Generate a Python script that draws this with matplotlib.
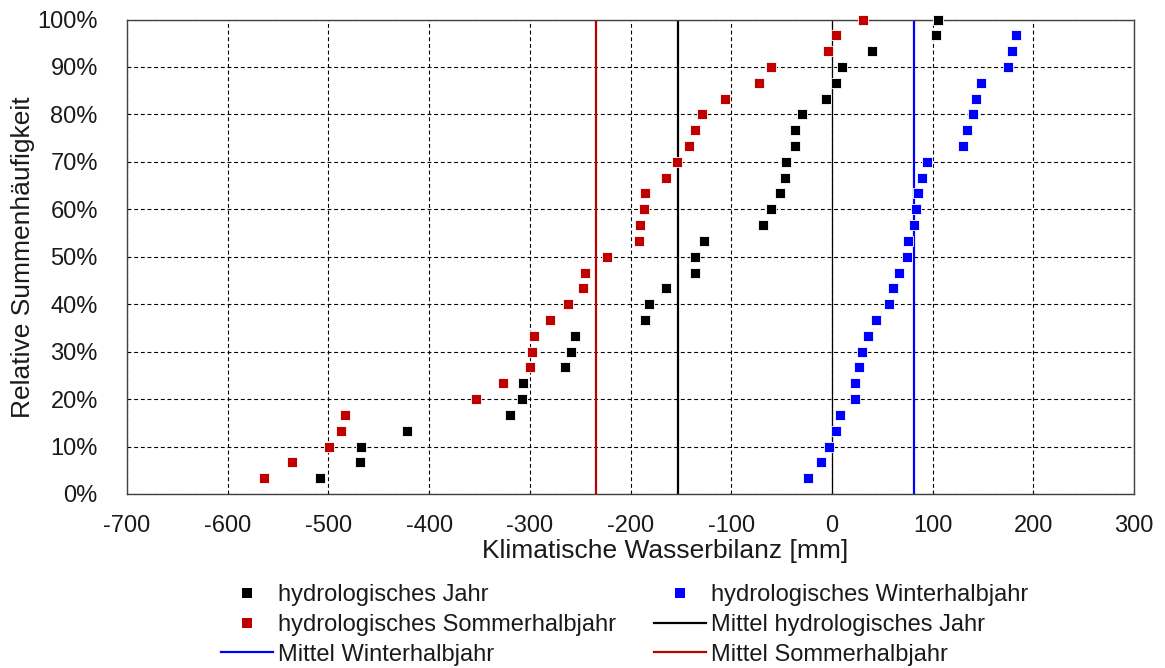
import matplotlib
matplotlib.use("Agg")
import matplotlib.pyplot as plt
import numpy as np
from matplotlib.lines import Line2D

plt.rcParams['font.family'] = ['Liberation Sans', 'DejaVu Sans']
plt.rcParams['axes.unicode_minus'] = False

# sorted values of the climatic water balance [mm], one per year
jahr = [-508.6, -469.1, -467.9, -421.9, -320.1, -307.6, -306.5, -265.4, -259.0, -255.6,
        -185.3, -181.8, -165.1, -136.3, -135.5, -127.1, -68.7, -60.5, -51.6, -46.6,
        -45.6, -36.4, -36.4, -30.0, -5.9, 4.4, 10.4, 39.8, 103.7, 105.7]
sommer = [-564.4, -536.3, -499.8, -487.3, -483.1, -353.6, -326.6, -300.0, -297.4, -296.2,
          -279.5, -261.6, -247.6, -245.3, -223.2, -191.8, -190.6, -186.8, -185.3, -164.8,
          -153.7, -142.4, -136.0, -128.6, -106.6, -72.2, -60.5, -3.5, 4.0, 30.6]
winter = [-23.8, -10.7, -3.2, 4.2, 8.5, 23.4, 23.4, 27.3, 29.8, 36.2,
          44.0, 56.4, 60.3, 66.7, 74.4, 75.5, 81.6, 83.1, 85.3, 89.1,
          94.4, 129.9, 134.1, 140.2, 143.0, 148.0, 174.5, 178.4, 182.4]
n_jahre = 30

mittel_jahr = -153.3
mittel_sommer = -234.5
mittel_winter = 81.6

labels = ['hydrologisches Jahr', 'hydrologisches Winterhalbjahr',
          'hydrologisches Sommerhalbjahr', 'Mittel hydrologisches Jahr',
          'Mittel Winterhalbjahr', 'Mittel Sommerhalbjahr']

c_jahr = 'black'
c_sommer = '#C00000'
c_winter = '#0000FF'
c_text = '#1a1a1a'

def freq(vals):
    return np.arange(1, len(vals) + 1) / n_jahre

fig = plt.figure(figsize=(11.65, 6.68), dpi=100)
ax = fig.add_axes([127 / 1165, 1 - 494 / 668, (1134 - 127) / 1165, (494 - 19.5) / 668])

ax.set_xlim(-700, 300)
ax.set_ylim(0, 1)
ax.set_xticks(np.arange(-700, 301, 100))
ax.set_yticks(np.arange(0, 1.01, 0.1))
ax.set_yticklabels([f'{int(round(v * 100))}%' for v in np.arange(0, 1.01, 0.1)])

ax.grid(True, color='black', linestyle=(0, (3.5, 2.5)), linewidth=0.8, zorder=0)
ax.set_axisbelow(True)
ax.axvline(0, color='black', linewidth=0.9, zorder=1)

ax.axvline(mittel_sommer, color=c_sommer, linewidth=1.6, zorder=2)
ax.axvline(mittel_jahr, color=c_jahr, linewidth=1.6, zorder=2)
ax.axvline(mittel_winter, color=c_winter, linewidth=1.6, zorder=2)

mk = dict(marker='s', linestyle='none', markersize=7, markeredgecolor='white',
          markeredgewidth=0.6, clip_on=False, zorder=3)
ax.plot(jahr, freq(jahr), color=c_jahr, **mk)
ax.plot(sommer, freq(sommer), color=c_sommer, **mk)
ax.plot(winter, freq(winter), color=c_winter, **mk)

for s in ax.spines.values():
    s.set_color('#404040')
    s.set_linewidth(1.0)

ax.tick_params(axis='both', length=0, labelsize=17, colors=c_text)
ax.tick_params(axis='x', pad=15)
ax.tick_params(axis='y', pad=21)

ax.set_xlabel('Klimatische Wasserbilanz [mm]', fontsize=19, color=c_text, labelpad=3)
ax.xaxis.set_label_coords((665 - 127) / 1007, -0.095)
ax.set_ylabel('Relative Summenhäufigkeit', fontsize=19, color=c_text)
ax.yaxis.set_label_coords(-(127 - 35) / 1007, 0.5)

sq = dict(marker='s', linestyle='none', markersize=7, markeredgewidth=0)
handles = [
    Line2D([], [], color=c_jahr, **sq),
    Line2D([], [], color=c_sommer, **sq),
    Line2D([], [], color=c_winter, linewidth=1.6),
    Line2D([], [], color=c_winter, **sq),
    Line2D([], [], color=c_jahr, linewidth=1.6),
    Line2D([], [], color=c_sommer, linewidth=1.6),
]
leg_labels = [labels[0], labels[2], labels[4], labels[1], labels[3], labels[5]]
fig.legend(handles, leg_labels, loc='upper left', ncol=2,
           bbox_to_anchor=(221 / 1165, 1 - 584 / 668), frameon=False,
           fontsize=17, borderpad=0, borderaxespad=0, handlelength=2.2,
           handletextpad=0.21, columnspacing=1.61, labelspacing=0.33,
           labelcolor=c_text)

fig.savefig('out.png', dpi=100)
